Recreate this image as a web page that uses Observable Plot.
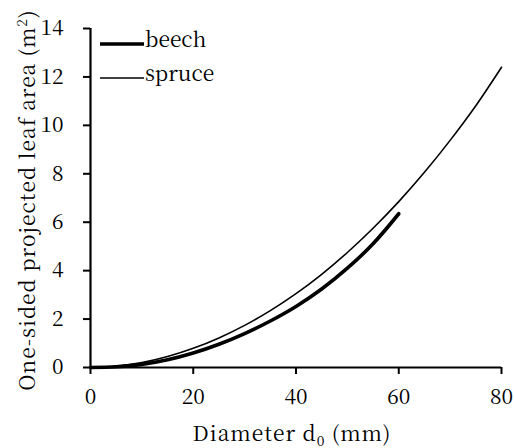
<!DOCTYPE html>
<html>
<head>
<meta charset="utf-8">
<script src="https://cdn.jsdelivr.net/npm/d3@7"></script>
<script src="https://cdn.jsdelivr.net/npm/@observablehq/plot@0.6"></script>
<style>
  body { margin: 0; background: white; overflow: hidden; }
</style>
</head>
<body>
<div id="chart"></div>
<script>
// Values
const spruceDiameter = [0, 5, 10, 15, 20, 25, 30, 35, 40, 45, 50, 55, 60, 65, 70, 75, 80];
const spruceArea     = [0, 0.05, 0.2, 0.45, 0.79, 1.22, 1.74, 2.35, 3.05, 3.85, 4.75, 5.75, 6.85, 8.06, 9.38, 10.81, 12.4];
const beechDiameter  = [0, 5, 10, 15, 20, 25, 30, 35, 40, 45, 50, 55, 60];
const beechArea      = [0, 0.03, 0.13, 0.32, 0.6, 0.96, 1.4, 1.92, 2.52, 3.24, 4.1, 5.11, 6.35];
const xTicks = [0, 20, 40, 60, 80];
const yTicks = [0, 2, 4, 6, 8, 10, 12, 14];
const seriesNames = ["beech", "spruce"];

const spruce = spruceDiameter.map((d, i) => ({d, a: spruceArea[i]}));
const beech = beechDiameter.map((d, i) => ({d, a: beechArea[i]}));

const FONT = "'Noto Serif CJK SC', 'Liberation Serif', serif";
const chart = Plot.plot({
  width: 514,
  height: 448,
  marginLeft: 90,
  marginRight: 13,
  marginTop: 28,
  marginBottom: 81,
  style: {fontFamily: FONT, fontSize: "21px"},
  x: {domain: [0, 80]},
  y: {domain: [0, 14]},
  marks: [
    Plot.axisX({ticks: xTicks, tickSize: 7, tickPadding: 15, strokeWidth: 2, label: null}),
    Plot.axisY({ticks: yTicks, tickSize: 7, tickPadding: 20, strokeWidth: 2, label: null}),
    Plot.ruleX([0], {y1: 0, y2: 14, strokeWidth: 2.2}),
    Plot.ruleY([0], {x1: 0, x2: 80, strokeWidth: 2.2}),
    Plot.line(spruce, {x: "d", y: "a", curve: "catmull-rom", stroke: "black", strokeWidth: 1.6}),
    Plot.line(beech, {x: "d", y: "a", curve: "catmull-rom", stroke: "black", strokeWidth: 3.6})
  ]
});
document.getElementById("chart").appendChild(chart);

const svg = d3.select(chart);
// Legend
const legend = [
  {name: seriesNames[0], w: 3.6, y: 44},
  {name: seriesNames[1], w: 1.6, y: 78}
];
for (const l of legend) {
  svg.append("line").attr("x1", 100).attr("x2", 144).attr("y1", l.y).attr("y2", l.y)
    .attr("stroke", "black").attr("stroke-width", l.w);
  svg.append("text").attr("x", 145).attr("y", l.y + 3).attr("text-anchor", "start")
    .attr("fill", "black").text(l.name);
}
// X axis label
const xl = svg.append("text").attr("x", 292).attr("y", 441).attr("text-anchor", "middle")
  .attr("letter-spacing", 1).attr("fill", "black");
xl.append("tspan").text("Diameter d");
xl.append("tspan").attr("font-size", 14).attr("dy", 5).text("0");
xl.append("tspan").attr("dy", -5).text(" (mm)");
// Y axis label
const yl = svg.append("text").attr("transform", "translate(35,200) rotate(-90)").attr("text-anchor", "middle")
  .attr("letter-spacing", 1).attr("fill", "black");
yl.append("tspan").text("One-sided projected leaf area (m");
yl.append("tspan").attr("font-size", 14).attr("dy", -8).text("2");
yl.append("tspan").attr("dy", 8).text(")");
</script>
</body>
</html>
